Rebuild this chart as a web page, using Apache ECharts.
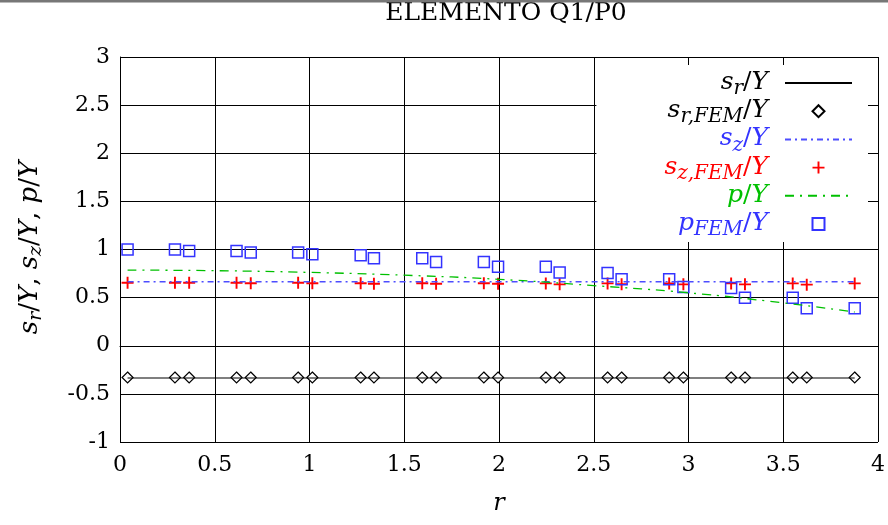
<!DOCTYPE html>
<html>
<head>
<meta charset="utf-8">
<script src="https://cdn.jsdelivr.net/npm/echarts@6/dist/echarts.min.js"></script>
<style>
  html, body { margin: 0; padding: 0; background: #fff; }
  #main { width: 888px; height: 525px; }
</style>
</head>
<body>
<div id="main"></div>
<script>
// r of the FEM sample points
var rPts = [0.04, 0.29, 0.365, 0.615, 0.69, 0.94, 1.015, 1.27, 1.34, 1.595, 1.668, 1.92,
            1.995, 2.247, 2.32, 2.573, 2.647, 2.898, 2.973, 3.225, 3.298, 3.55, 3.624, 3.877];
var srFem = [-0.33, -0.33, -0.33, -0.33, -0.33, -0.33, -0.33, -0.33, -0.33, -0.33, -0.33, -0.33,
             -0.33, -0.33, -0.33, -0.33, -0.33, -0.33, -0.33, -0.33, -0.33, -0.33, -0.33, -0.33];
var szFem = [0.655, 0.655, 0.655, 0.655, 0.65, 0.655, 0.65, 0.65, 0.645, 0.65, 0.645, 0.65,
             0.645, 0.648, 0.638, 0.648, 0.64, 0.648, 0.638, 0.648, 0.638, 0.648, 0.635, 0.648];
var pFem = [1.0, 1.0, 0.985, 0.985, 0.97, 0.97, 0.95, 0.94, 0.91, 0.91, 0.87, 0.87,
            0.82, 0.82, 0.76, 0.755, 0.69, 0.69, 0.61, 0.60, 0.50, 0.50, 0.39, 0.39];

// analytic curves
var rLine = [0.04, 3.877];
var srLine = [-0.335, -0.335];
var szLine = [0.665, 0.665];
var rP = [0.04, 0.5, 1.0, 1.5, 2.0, 2.5, 3.0, 3.5, 3.877];
var pLine = [0.786, 0.78, 0.762, 0.733, 0.69, 0.625, 0.55, 0.445, 0.35];

function pairs(xs, ys) {
  return xs.map(function (x, i) { return [x, ys[i]]; });
}

var serif = 'DejaVu Serif';
var colors = { k: '#000000', b: '#3333ff', r: '#ff0000', g: '#00c000' };
var rich = {};
Object.keys(colors).forEach(function (c) {
  rich['i' + c] = { fontFamily: serif, fontStyle: 'italic', fontSize: 25, lineHeight: 26, color: colors[c], verticalAlign: 'top' };
  rich['u' + c] = { fontFamily: serif, fontSize: 25, lineHeight: 26, color: colors[c], verticalAlign: 'top' };
  // subscript pushed down with top padding
  rich['s' + c] = { fontFamily: serif, fontStyle: 'italic', fontSize: 20, lineHeight: 17, padding: [9, 0, 0, 0], color: colors[c], verticalAlign: 'top' };
});
// set for the y axis name
var yRich = {
  i: { fontFamily: serif, fontStyle: 'italic', fontSize: 26, lineHeight: 29, color: '#000', verticalAlign: 'top' },
  u: { fontFamily: serif, fontSize: 26, lineHeight: 29, color: '#000', verticalAlign: 'top' },
  s: { fontFamily: serif, fontStyle: 'italic', fontSize: 19, lineHeight: 19, padding: [10, 0, 0, 0], color: '#000', verticalAlign: 'top' }
};

// every entry carries a subscript token so all rows get the same height
var legendText = {
  'sr': '{ik|s}{sk|r}{uk|/}{ik|Y}',
  'srFEM': '{ik|s}{sk|r,FEM}{uk|/}{ik|Y}',
  'sz': '{ib|s}{sb|z}{ub|/}{ib|Y}',
  'szFEM': '{ir|s}{sr|z,FEM}{ur|/}{ir|Y}',
  'p': '{ig|p}{sg|\u200b}{ug|/}{ig|Y}',
  'pFEM': '{ib|p}{sb|FEM}{ub|/}{ib|Y}'
};

var chart = echarts.init(document.getElementById('main'));
chart.setOption({
  animation: false,
  backgroundColor: '#fff',
  title: {
    text: 'ELEMENTO Q1/P0',
    left: 501,
    textAlign: 'center',
    top: -4,
    textStyle: { fontFamily: serif, fontWeight: 'normal', fontSize: 25, color: '#000' }
  },
  graphic: [{
    type: 'rect', z: 100,
    shape: { x: 0, y: 0, width: 888, height: 2.5 },
    style: { fill: '#777777' }
  }],
  grid: { left: 120, right: 8, top: 57, bottom: 83 },
  legend: {
    orient: 'vertical',
    align: 'right',
    right: 20,
    top: 65,
    padding: [5, 15, 2, 68],
    backgroundColor: '#fff',
    itemWidth: 67,
    itemHeight: 12,
    itemGap: -0.8,
    textStyle: { rich: rich, padding: [0, 12, 0, 0] },
    formatter: function (name) { return legendText[name]; },
    data: [
      { name: 'sr', itemStyle: { opacity: 0 } },
      'srFEM',
      { name: 'sz', itemStyle: { opacity: 0 } },
      'szFEM',
      { name: 'p', itemStyle: { opacity: 0 } },
      'pFEM'
    ]
  },
  xAxis: {
    type: 'value', min: 0, max: 4, interval: 0.5,
    name: 'r', nameLocation: 'middle', nameGap: 50,
    nameTextStyle: { fontFamily: serif, fontStyle: 'italic', fontSize: 24, color: '#000' },
    axisLine: { lineStyle: { color: '#000', width: 1 } },
    axisTick: { inside: true, length: 5, lineStyle: { color: '#000' } },
    axisLabel: { fontFamily: serif, fontSize: 22, color: '#000', margin: 12 },
    splitLine: { show: true, lineStyle: { color: '#000', width: 1 } }
  },
  yAxis: {
    type: 'value', min: -1, max: 3, interval: 0.5,
    name: '{i|s}{s|r}{u|/}{i|Y}{u|, }{i|s}{s|z}{u|/}{i|Y}{u|, }{i|p}{u|/}{i|Y}',
    nameLocation: 'middle', nameRotate: 90, nameGap: 74,
    nameTextStyle: { rich: yRich, padding: [0, 0, 0, 4] },
    axisLine: { lineStyle: { color: '#000', width: 1 } },
    axisTick: { inside: true, length: 5, lineStyle: { color: '#000' } },
    axisLabel: { fontFamily: serif, fontSize: 22, color: '#000', margin: 10 },
    splitLine: { show: true, lineStyle: { color: '#000', width: 1 } }
  },
  series: [
    {
      name: 'sr', type: 'line', symbol: 'none', showSymbol: false,
      data: pairs(rLine, srLine),
      lineStyle: { color: '#000', width: 1.2 }, itemStyle: { color: '#000' }
    },
    {
      name: 'sz', type: 'line', symbol: 'none', showSymbol: false,
      data: pairs(rLine, szLine),
      lineStyle: { color: '#4d4dff', width: 1.3, type: [6, 4, 2, 4] }, itemStyle: { color: '#4d4dff' }
    },
    {
      name: 'p', type: 'line', symbol: 'none', showSymbol: false, smooth: true,
      data: pairs(rP, pLine),
      lineStyle: { color: '#00c000', width: 1.3, type: [9, 6, 2, 6] }, itemStyle: { color: '#00c000' }
    },
    {
      name: 'srFEM', type: 'scatter', symbol: 'path://M5,0L10,5L5,10L0,5Z', symbolSize: 11,
      data: pairs(rPts, srFem),
      itemStyle: { color: '#fff', borderColor: '#000', borderWidth: 1.2, opacity: 1 }
    },
    {
      name: 'szFEM', type: 'scatter', symbolSize: 12,
      symbol: 'path://M4.2,0h1.6v10h-1.6z M0,4.2h10v1.6h-10z',
      data: pairs(rPts, szFem),
      itemStyle: { color: '#ff0000', opacity: 1 }
    },
    {
      name: 'pFEM', type: 'scatter', symbol: 'path://M0,0H10V10H0Z', symbolSize: 11,
      data: pairs(rPts, pFem),
      itemStyle: { color: 'rgba(0,0,0,0)', borderColor: '#3333ff', borderWidth: 1.5, opacity: 1 }
    }
  ]
});
</script>
</body>
</html>
